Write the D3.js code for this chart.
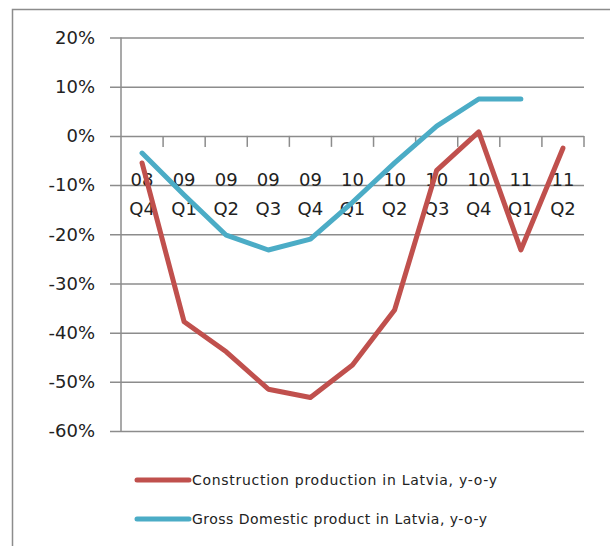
<!DOCTYPE html>
<html>
<head>
<meta charset="utf-8">
<script src="https://cdnjs.cloudflare.com/ajax/libs/d3/7.8.5/d3.min.js"></script>
<style>
  body { margin: 0; background: #fff; }
  svg text { font-family: "DejaVu Sans", sans-serif; fill: #222; }
</style>
</head>
<body>
<div id="chart"></div>
<script>
// quarters (two-line labels: year / quarter)
var years = ["08", "09", "09", "09", "09", "10", "10", "10", "10", "11", "11"];
var quarters = ["Q4", "Q1", "Q2", "Q3", "Q4", "Q1", "Q2", "Q3", "Q4", "Q1", "Q2"];
// y-o-y growth, %
var construction = [-5.5, -37.8, -43.9, -51.5, -53.2, -46.6, -35.4, -7, 0.8, -23.2, -2.5];
var gdp = [-3.5, -12, -20.2, -23.2, -21, -13.5, -5.5, 2, 7.5, 7.5, null];
var yTicks = [20, 10, 0, -10, -20, -30, -40, -50, -60];
var seriesNames = ["Construction production in Latvia, y-o-y", "Gross Domestic product in Latvia, y-o-y"];
var colors = ["#C0504D", "#4BACC6"];

var W = 610, H = 546;
var plotL = 121, plotR = 584, plotT = 37.5, plotB = 431;

var svg = d3.select("#chart").append("svg")
  .attr("width", W).attr("height", H);

// outer chart border (runs off right/bottom edge)
svg.append("rect")
  .attr("x", 12.5).attr("y", 9.5)
  .attr("width", 620).attr("height", 560)
  .attr("fill", "none").attr("stroke", "#8c8c8c").attr("stroke-width", 1.5);

var idx = d3.range(years.length);
var x = d3.scaleBand().domain(idx).range([plotL, plotR]).padding(0);
var y = d3.scaleLinear().domain([-60, 20]).range([plotB, plotT]);

// gridlines + y labels
var yAxis = svg.append("g")
  .attr("transform", "translate(" + plotL + ",0)")
  .call(d3.axisLeft(y).tickValues(yTicks).tickSize(-(plotR - plotL)).tickPadding(26)
    .tickFormat(function(d) { return d + "%"; }));
yAxis.select(".domain").remove();
yAxis.selectAll(".tick line")
  .attr("x1", -11)
  .attr("stroke", "#8c8c8c").attr("stroke-width", 1.5);
yAxis.selectAll(".tick text")
  .attr("font-size", "18px")
  .style("font-family", "'DejaVu Sans', sans-serif")
  .attr("fill", "#222");

// vertical axis line
svg.append("line")
  .attr("x1", plotL).attr("x2", plotL)
  .attr("y1", y(20)).attr("y2", y(-60))
  .attr("stroke", "#8c8c8c").attr("stroke-width", 1.5);

// category ticks on the 0% line
svg.append("g").selectAll("line")
  .data(idx)
  .enter().append("line")
  .attr("x1", function(d) { return x(d) + x.bandwidth(); })
  .attr("x2", function(d) { return x(d) + x.bandwidth(); })
  .attr("y1", y(0)).attr("y2", y(0) + 11)
  .attr("stroke", "#8c8c8c").attr("stroke-width", 1.5);

// category labels
var cat = svg.append("g").selectAll("text")
  .data(idx)
  .enter().append("text")
  .attr("text-anchor", "middle")
  .attr("font-size", "18px");
cat.append("tspan")
  .attr("x", function(d) { return x(d) + x.bandwidth() / 2; })
  .attr("y", 186)
  .text(function(d) { return years[d]; });
cat.append("tspan")
  .attr("x", function(d) { return x(d) + x.bandwidth() / 2; })
  .attr("y", 215)
  .text(function(d) { return quarters[d]; });

// lines
var line = d3.line()
  .defined(function(d) { return d != null; })
  .x(function(d, i) { return x(i) + x.bandwidth() / 2; })
  .y(function(d) { return y(d); });

[construction, gdp].forEach(function(s, i) {
  svg.append("path")
    .datum(s)
    .attr("d", line)
    .attr("fill", "none")
    .attr("stroke", colors[i])
    .attr("stroke-width", 5)
    .attr("stroke-linejoin", "round")
    .attr("stroke-linecap", "round");
});

// legend
var legend = svg.append("g").selectAll("g")
  .data(seriesNames)
  .enter().append("g")
  .attr("transform", function(d, i) { return "translate(135," + (480 + i * 39) + ")"; });
legend.append("line")
  .attr("x1", 2).attr("x2", 54)
  .attr("stroke", function(d, i) { return colors[i]; })
  .attr("stroke-width", 5)
  .attr("stroke-linecap", "round");
legend.append("text")
  .attr("x", 57).attr("y", 5)
  .attr("font-size", "14px")
  .attr("textLength", function(d, i) { return i === 0 ? 305 : 295; })
  .attr("lengthAdjust", "spacing")
  .text(function(d) { return d; });
</script>
</body>
</html>
